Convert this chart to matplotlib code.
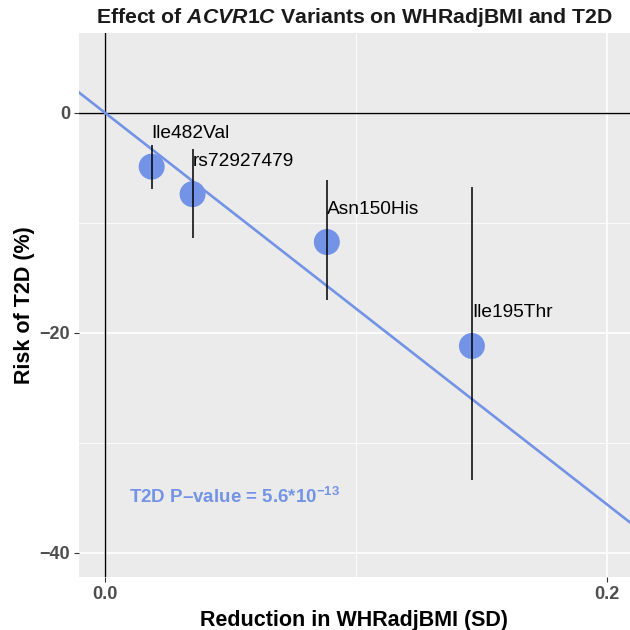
import matplotlib
matplotlib.use("Agg")
import matplotlib.pyplot as plt

plt.rcParams['font.family'] = ['Liberation Sans', 'DejaVu Sans']
plt.rcParams['mathtext.fontset'] = 'custom'
plt.rcParams['mathtext.rm'] = 'Liberation Sans:bold'
plt.rcParams['mathtext.it'] = 'Liberation Sans:italic:bold'
plt.rcParams['mathtext.bf'] = 'Liberation Sans:bold'

variants = ["Ile482Val", "rs72927479", "Asn150His", "Ile195Thr"]
whr_reduction = [0.0186, 0.0349, 0.0884, 0.1462]
t2d_risk = [-4.9, -7.4, -11.75, -21.2]
t2d_low = [-6.9, -11.4, -17.05, -33.4]
t2d_high = [-2.9, -3.3, -6.1, -6.75]
fit_slope = -178.0
pvalue_text = "T2D P\u2013value = 5.6*10$^{\\mathrm{-13}}$"

x_ticks = [0.0, 0.2]
x_ticklabels = ["0.0", "0.2"]
y_ticks = [0, -20, -40]
y_ticklabels = ["0", "\u221220", "\u221240"]

blue = "#7393E6"

fig = plt.figure(figsize=(6.3, 6.3), dpi=100)
ax = fig.add_axes([79/630, 53/630, 551/630, 544/630])
ax.set_facecolor("#EBEBEB")
for s in ax.spines.values():
    s.set_visible(False)

ax.set_xlim(-0.01036, 0.2092)
ax.set_ylim(-42.2, 7.25)

# grids
for v in [0.1]:
    ax.axvline(v, color="white", lw=0.6, zorder=0)
for v in [0.0, 0.2]:
    ax.axvline(v, color="white", lw=1.2, zorder=0)
for v in [-10, -30]:
    ax.axhline(v, color="white", lw=0.6, zorder=0)
for v in [0, -20, -40]:
    ax.axhline(v, color="white", lw=1.2, zorder=0)

ax.axhline(0, color="black", lw=1.0, zorder=1)
ax.axvline(0, color="black", lw=1.0, zorder=1)

ax.axline((0, 0), slope=fit_slope, color=blue, lw=1.9, zorder=2)

ax.scatter(whr_reduction, t2d_risk, s=350, color=blue, edgecolors="none", zorder=3)
ax.vlines(whr_reduction, t2d_low, t2d_high, color="black", lw=1.1, zorder=4)

for name, xv, yv in zip(variants, whr_reduction, t2d_risk):
    ax.text(xv, yv + 3.0, name, ha="left", va="center", fontsize=13.8, color="black", zorder=5)

ax.text(0.0094, -34.9, pvalue_text, ha="left", va="center", fontsize=13.5,
        fontweight="bold", color=blue)

ax.set_xticks(x_ticks)
ax.set_xticklabels(x_ticklabels)
ax.set_yticks(y_ticks)
ax.set_yticklabels(y_ticklabels)
ax.tick_params(axis="both", length=3.5, width=0.8, color="#333333", labelcolor="#4D4D4D",
               labelsize=13, pad=3)
for lab in ax.get_xticklabels() + ax.get_yticklabels():
    lab.set_fontweight("bold")

ax.set_xlabel("Reduction in WHRadjBMI (SD)", fontsize=15.5, fontweight="bold", labelpad=5)
ax.set_ylabel("Risk of T2D (%)", fontsize=15.5, fontweight="bold", labelpad=3)

fig.text(0.562, 0.972, "Effect of $\\mathit{ACVR1C}$ Variants on WHRadjBMI and T2D",
         ha="center", va="center", fontsize=15.3, fontweight="bold", color="#1A1A1A")

fig.savefig("out.png", dpi=100)
